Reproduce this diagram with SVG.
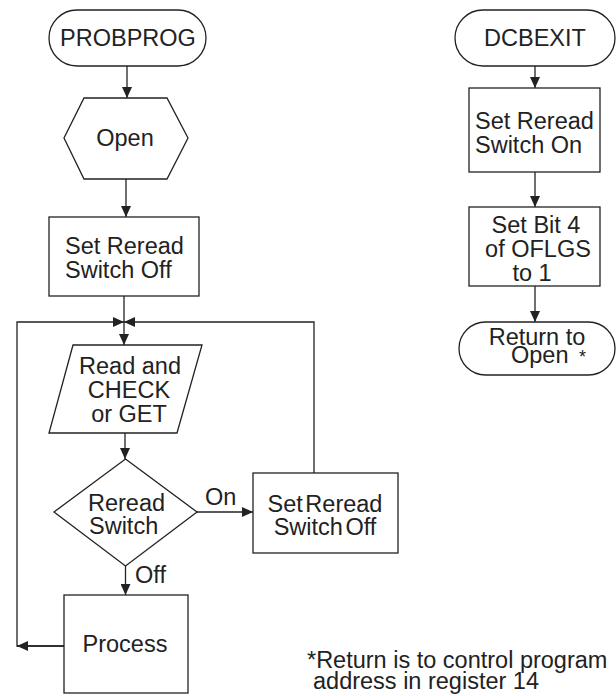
<svg xmlns="http://www.w3.org/2000/svg" width="616" height="696" viewBox="0 0 616 696">
<style>
.s{fill:#fff;stroke:#222;stroke-width:1.3}
.c{fill:none;stroke:#222;stroke-width:1.3}
text{font-family:"Liberation Sans",Arial,sans-serif;font-size:23.5px;fill:#222}
.m{text-anchor:middle}
</style>
<defs>
<marker id="a" markerUnits="userSpaceOnUse" markerWidth="11" markerHeight="10" refX="11" refY="5" orient="auto">
<path d="M0,0L11,5L0,10z" fill="#222"/>
</marker>
</defs>
<rect width="616" height="696" fill="#fff"/>
<g id="connectors">
<line class="c" x1="127" y1="66" x2="127" y2="98" marker-end="url(#a)"/>
<line class="c" x1="126" y1="179" x2="126" y2="217" marker-end="url(#a)"/>
<line class="c" x1="124" y1="296" x2="124" y2="345" marker-end="url(#a)"/>
<polyline class="c" points="64,646 17,646 17,322 124,322" marker-end="url(#a)"/>
<polyline class="c" points="314,473 314,322 124,322" marker-end="url(#a)"/>
<line class="c" x1="64" y1="646" x2="17" y2="646" marker-end="url(#a)"/>
<line class="c" x1="125" y1="433" x2="125" y2="459" marker-end="url(#a)"/>
<line class="c" x1="197" y1="512" x2="253" y2="512" marker-end="url(#a)"/>
<line class="c" x1="125.5" y1="566" x2="125.5" y2="595" marker-end="url(#a)"/>
<line class="c" x1="535" y1="66" x2="535" y2="88" marker-end="url(#a)"/>
<line class="c" x1="535" y1="172" x2="535" y2="207" marker-end="url(#a)"/>
<line class="c" x1="535" y1="286" x2="535" y2="322" marker-end="url(#a)"/>
<text x="205" y="505">On</text>
<text x="135" y="583">Off</text>
</g>
<g id="probprog">
<rect class="s" x="49" y="10" width="157" height="56" rx="28"/>
<text class="m" x="128" y="46">PROBPROG</text>
</g>
<g id="open">
<polygon class="s" points="84,98 167,98 188,138 167,179 84,179 64,138"/>
<text class="m" x="125" y="146">Open</text>
</g>
<g id="setoff1">
<rect class="s" x="49" y="217" width="150" height="79"/>
<text x="65" y="254">Set Reread</text>
<text x="65" y="278">Switch Off</text>
</g>
<g id="read">
<polygon class="s" points="73,345 202,345 177,433 49,433"/>
<text class="m" x="130" y="374">Read and</text>
<text class="m" x="129" y="398">CHECK</text>
<text class="m" x="129" y="422">or GET</text>
</g>
<g id="decision">
<polygon class="s" points="125.5,459 197,512 125.5,566 54,512"/>
<text x="88" y="511">Reread</text>
<text x="89" y="534">Switch</text>
</g>
<g id="setoff2">
<rect class="s" x="253" y="473" width="145" height="80"/>
<text class="m" x="325" y="512" word-spacing="-4">Set Reread</text>
<text class="m" x="325" y="535" word-spacing="-4">Switch Off</text>
</g>
<g id="process">
<rect class="s" x="64" y="595" width="124" height="98"/>
<text class="m" x="125" y="652">Process</text>
</g>
<g id="dcbexit">
<rect class="s" x="455" y="10" width="160" height="56" rx="28"/>
<text class="m" x="535" y="46">DCBEXIT</text>
</g>
<g id="seton">
<rect class="s" x="469" y="88" width="131" height="84"/>
<text x="475" y="129">Set Reread</text>
<text x="475" y="153">Switch On</text>
</g>
<g id="setbit">
<rect class="s" x="469" y="207" width="131" height="79"/>
<text class="m" x="536" y="233">Set Bit 4</text>
<text class="m" x="538" y="257">of OFLGS</text>
<text class="m" x="532" y="281">to 1</text>
</g>
<g id="return">
<rect class="s" x="459" y="322" width="156" height="53" rx="26.5"/>
<text class="m" x="537" y="345">Return to</text>
<text x="511" y="363">Open</text>
<text x="579" y="363" style="font-size:18px">*</text>
</g>
<g id="footnote">
<text x="307" y="668">*Return is to control program</text>
<text x="313" y="689">address in register 14</text>
</g>
</svg>
